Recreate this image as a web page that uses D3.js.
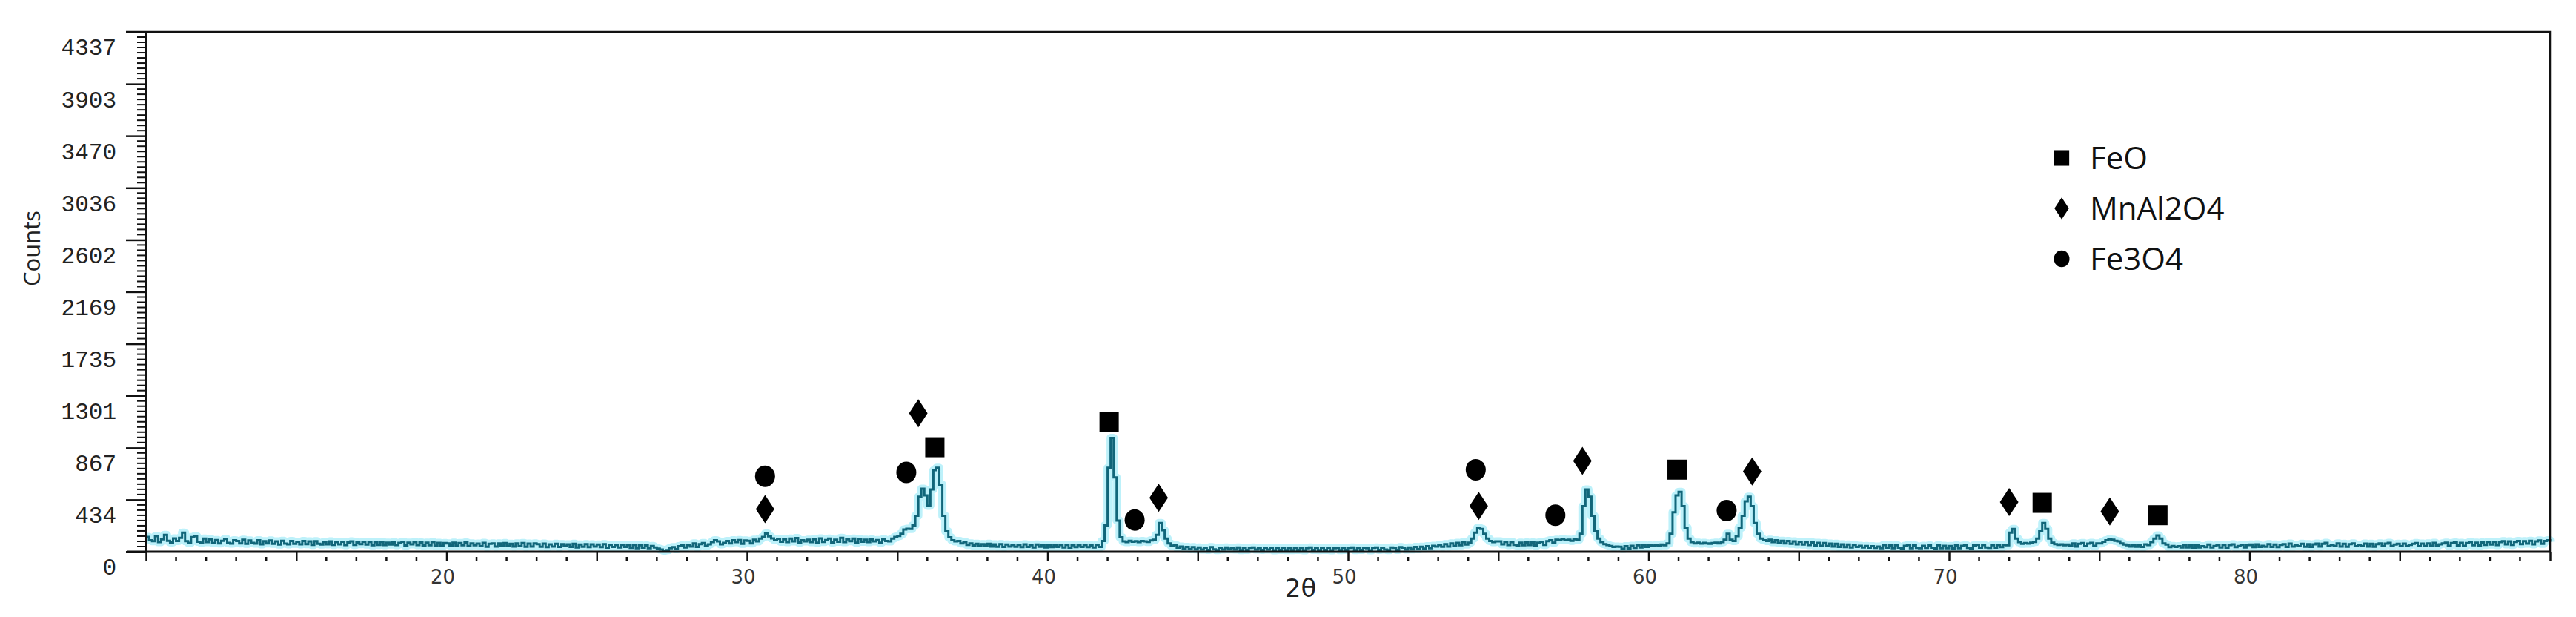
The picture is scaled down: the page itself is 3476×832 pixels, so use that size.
<!DOCTYPE html>
<html>
<head>
<meta charset="utf-8">
<script src="https://cdn.jsdelivr.net/npm/d3@7"></script>
<style>
    html, body { margin: 0; padding: 0; background: #fff; }
    svg { display: block; }
</style>
</head>
<body>
<svg id="xrd"></svg>
<script>
// counts on a 0.1 deg grid, one row per degree (x.0 .. x.9)
const scanStart = 10;
const scanStep = 0.1;
const counts = [
    124,96,88,130,80,104,140,92,78,112,
    90,116,160,88,74,122,130,84,76,110,
    80,104,72,98,70,92,106,74,68,96,
    90,70,100,66,94,74,68,96,62,88,
    70,94,66,86,60,92,68,62,90,66,
    84,62,90,64,86,58,88,66,60,82,
    62,86,58,80,62,84,56,78,86,58,
    78,64,84,60,82,54,80,58,84,56,
    76,60,80,56,74,84,52,76,62,80,
    56,78,52,76,54,80,50,74,48,72,
    70,52,76,50,72,54,78,48,70,54,
    68,46,74,42,66,70,44,70,46,72,
    48,66,44,70,46,72,42,68,44,70,
    64,42,68,38,62,44,66,40,64,46,
    62,40,66,36,60,42,64,38,62,44,
    60,38,64,34,58,40,56,36,58,40,
    56,32,58,30,54,34,52,30,48,36,
    26,18,10,14,30,38,22,46,52,36,
    56,44,70,40,64,72,50,62,80,96,
    86,62,74,90,70,96,80,98,66,94,
    92,70,100,86,110,124,152,128,112,96,
    108,84,104,80,110,86,114,78,96,86,
    100,80,104,76,112,82,98,110,78,100,
    84,116,80,104,88,110,76,108,84,100,
    80,102,86,98,76,104,90,86,110,124,
    132,150,186,192,190,220,300,460,526,470,
    384,520,680,700,560,300,170,120,96,86,
    90,70,80,58,70,52,66,50,64,52,
    66,44,62,42,64,40,60,44,56,42,
    58,38,62,40,54,36,60,42,56,36,
    58,38,52,40,56,36,58,34,54,38,
    54,40,56,38,52,36,58,40,90,220,
    700,950,620,260,120,86,80,92,84,88,
    80,90,86,82,94,100,140,240,180,110,
    70,50,56,34,44,24,40,22,38,20,
    36,18,34,16,38,20,14,34,18,36,
    20,32,18,36,14,34,16,32,36,18,
    30,16,32,18,34,12,32,16,34,14,
    32,14,34,16,32,12,30,36,16,32,
    14,32,16,34,12,30,32,14,34,16,
    32,36,14,32,16,34,30,12,32,36,
    16,34,18,14,36,32,16,38,34,18,
    36,20,40,22,42,26,46,30,50,44,
    56,42,64,44,70,48,74,54,80,60,
    76,110,160,200,190,150,110,90,80,86,
    86,62,82,56,80,58,52,76,54,78,
    56,78,52,76,82,58,88,96,76,100,
    98,106,96,100,92,104,100,150,380,520,
    460,300,170,110,80,64,56,48,40,44,
    42,24,46,28,50,32,54,36,56,40,
    52,48,56,50,60,54,70,150,330,470,
    500,380,200,110,80,70,76,68,74,70,
    66,72,76,70,80,100,150,100,90,130,
    200,300,420,460,380,240,150,110,96,90,
    100,80,96,72,92,70,90,66,86,62,
    84,60,80,56,78,52,74,50,72,48,
    68,44,66,40,62,38,60,36,58,40,
    50,36,48,34,46,32,44,30,56,34,
    52,30,54,34,28,50,56,30,52,32,
    30,50,32,52,34,28,54,30,50,30,
    48,28,52,30,50,54,32,28,52,58,
    34,56,36,32,54,34,56,38,58,54,
    160,190,110,80,66,72,68,76,82,110,
    170,240,190,110,76,64,58,62,54,60,
    48,70,44,66,72,46,68,74,50,70,
    70,84,96,104,100,92,86,70,60,54,
    44,56,42,54,40,62,56,80,110,136,
    110,70,60,38,48,40,46,36,58,36,
    54,34,56,36,46,38,60,36,48,56,
    36,58,34,56,62,38,48,58,36,56,
    60,38,62,40,50,42,64,40,60,38,
    58,64,40,68,44,54,46,66,42,64,
    40,62,68,44,66,74,46,58,48,70,
    44,66,42,64,70,46,56,48,68,44,
    66,42,64,70,46,68,74,48,60,66,
    46,68,48,58,66,72,46,68,48,70,
    50,74,52,62,70,76,50,72,78,52,
    74,50,72,80,54,76,52,78,58,82,
    60,84,56,80,88,62,86,58,82,90,
    64,88,68,92,62,86,94,66,90,96,
    84
];

// phase markers: [2theta, height of marker in counts]
const feoPeaks = [[36.25, 872], [42.05, 1080], [60.95, 685], [73.1, 408], [76.95, 305]];
const mnal2o4Peaks = [[30.6, 355], [35.7, 1155], [43.7, 450], [54.35, 382], [57.8, 758], [63.45, 670], [72.0, 414], [75.35, 336]];
const fe3o4Peaks = [[30.6, 630], [35.3, 662], [42.9, 265], [54.25, 684], [56.9, 305], [62.6, 343]];

const legendLabels = ['FeO', 'MnAl2O4', 'Fe3O4'];
const legendShapes = ['square', 'diamond', 'circle'];

const yTickValues = [0, 434, 867, 1301, 1735, 2169, 2602, 3036, 3470, 3903, 4337];
const xMajorTicks = [10, 15, 20, 25, 30, 35, 40, 45, 50, 55, 60, 65, 70, 75, 80, 85, 90];
const xTickLabels = [20, 30, 40, 50, 60, 70, 80];

const width = 3476;
const height = 832;
const plot = { left: 197, right: 3441, top: 43, bottom: 744 };

const svg = d3.select('#xrd')
    .attr('width', width)
    .attr('height', height)
    .style('background', '#fff');

var x = d3.scaleLinear().domain([10, 90]).range([plot.left, plot.right]);
var y = d3.scaleLinear().domain([0, 4337]).range([plot.bottom, plot.top]);

const data = counts.map(function (c, i) {
    return { t: scanStart + i * scanStep, c: c };
});

// trace: light cyan glow under a dark teal line
const line = d3.line()
    .x(function (d) { return x(d.t); })
    .y(function (d) { return y(d.c); })
    .curve(d3.curveStepAfter);

svg.append('path')
    .datum(data)
    .attr('d', line)
    .attr('fill', 'none')
    .attr('stroke', '#bdf1fa')
    .attr('stroke-width', 11)
    .attr('stroke-linejoin', 'round');

svg.append('path')
    .datum(data)
    .attr('d', line)
    .attr('fill', 'none')
    .attr('stroke', '#11667a')
    .attr('stroke-width', 3);

// frame
svg.append('path')
    .attr('d', 'M' + (plot.left - 27) + ',' + plot.top + 'H' + plot.right + 'V' + plot.bottom)
    .attr('fill', 'none')
    .attr('stroke', '#111')
    .attr('stroke-width', 2.5);

// y axis
const yAxis = svg.append('g')
    .attr('transform', 'translate(' + plot.left + ',0)')
    .call(d3.axisLeft(y).tickValues(yTickValues).tickSize(27).tickPadding(13).tickFormat(d3.format('d')));
yAxis.select('.domain').attr('stroke', '#111').attr('stroke-width', 3);
yAxis.selectAll('.tick line').attr('stroke', '#111').attr('stroke-width', 2.5);
yAxis.selectAll('.tick text')
    .attr('y', 21)
    .attr('fill', '#222')
    .style('font-family', '"Liberation Mono", "Courier New", monospace')
    .style('font-size', '31px');

const yMinor = d3.range(0, 100).map(function (i) { return i * 43.37; })
    .filter(function (v, i) { return i % 10 !== 0; });
svg.append('g')
    .selectAll('line')
    .data(yMinor)
    .enter()
    .append('line')
    .attr('x1', plot.left - 12)
    .attr('x2', plot.left)
    .attr('y1', function (d) { return y(d); })
    .attr('y2', function (d) { return y(d); })
    .attr('stroke', '#111')
    .attr('stroke-width', 2);

// x axis
const xAxis = svg.append('g')
    .attr('transform', 'translate(0,' + plot.bottom + ')')
    .call(d3.axisBottom(x).tickValues(xMajorTicks).tickSize(13).tickFormat(''));
xAxis.select('.domain').remove();
xAxis.selectAll('.tick line').attr('stroke', '#111').attr('stroke-width', 2.5);
svg.append('line')
    .attr('x1', plot.left - 25)
    .attr('x2', plot.right)
    .attr('y1', plot.bottom)
    .attr('y2', plot.bottom)
    .attr('stroke', '#111')
    .attr('stroke-width', 3);

const xMinor = d3.range(11, 90).filter(function (v) { return v % 5 !== 0; });
svg.append('g')
    .selectAll('line')
    .data(xMinor)
    .enter()
    .append('line')
    .attr('x1', function (d) { return x(d); })
    .attr('x2', function (d) { return x(d); })
    .attr('y1', plot.bottom + 7)
    .attr('y2', plot.bottom + 13)
    .attr('stroke', '#111')
    .attr('stroke-width', 2.5);

svg.append('g')
    .selectAll('text')
    .data(xTickLabels)
    .enter()
    .append('text')
    .attr('x', function (d) { return x(d) - 5; })
    .attr('y', plot.bottom + 43)
    .attr('text-anchor', 'middle')
    .attr('fill', '#333')
    .style('font-family', '"DejaVu Sans", Verdana, sans-serif')
    .style('font-size', '26px')
    .text(function (d) { return d; });

svg.append('text')
    .attr('x', 1755)
    .attr('y', 805)
    .attr('text-anchor', 'middle')
    .attr('fill', '#222')
    .style('font-family', '"DejaVu Sans", sans-serif')
    .style('font-size', '34px')
    .text('2θ');

svg.append('text')
    .attr('transform', 'translate(54,335) rotate(-90)')
    .attr('text-anchor', 'middle')
    .attr('fill', '#222')
    .style('font-family', '"Open Sans", sans-serif')
    .style('font-size', '31px')
    .text('Counts');

// marker shapes
function drawShape(g, shape, cx, cy, s) {
    if (shape === 'square') {
        g.append('rect')
            .attr('x', cx - 13 * s).attr('y', cy - 13.5 * s)
            .attr('width', 26 * s).attr('height', 27 * s)
            .attr('fill', '#000');
    } else if (shape === 'diamond') {
        const p = d3.path();
        p.moveTo(cx, cy - 19 * s);
        p.lineTo(cx + 12.5 * s, cy);
        p.lineTo(cx, cy + 19 * s);
        p.lineTo(cx - 12.5 * s, cy);
        p.closePath();
        g.append('path').attr('d', p.toString()).attr('fill', '#000');
    } else {
        g.append('ellipse')
            .attr('cx', cx).attr('cy', cy)
            .attr('rx', 13.5 * s).attr('ry', 14.5 * s)
            .attr('fill', '#000');
    }
}

const markers = svg.append('g');
[[feoPeaks, 'square'], [mnal2o4Peaks, 'diamond'], [fe3o4Peaks, 'circle']].forEach(function (set) {
    set[0].forEach(function (d) {
        drawShape(markers, set[1], x(d[0]), y(d[1]), 1);
    });
});

// legend
const legend = svg.append('g');
legendLabels.forEach(function (label, i) {
    const cy = 213 + i * 68;
    drawShape(legend, legendShapes[i], 2782, cy, 0.78);
    legend.append('text')
        .attr('x', 2820)
        .attr('y', cy)
        .attr('dy', '0.35em')
        .attr('fill', '#111')
        .style('font-family', '"Open Sans", sans-serif')
        .style('font-size', '42px')
        .text(label);
});
</script>
</body>
</html>
